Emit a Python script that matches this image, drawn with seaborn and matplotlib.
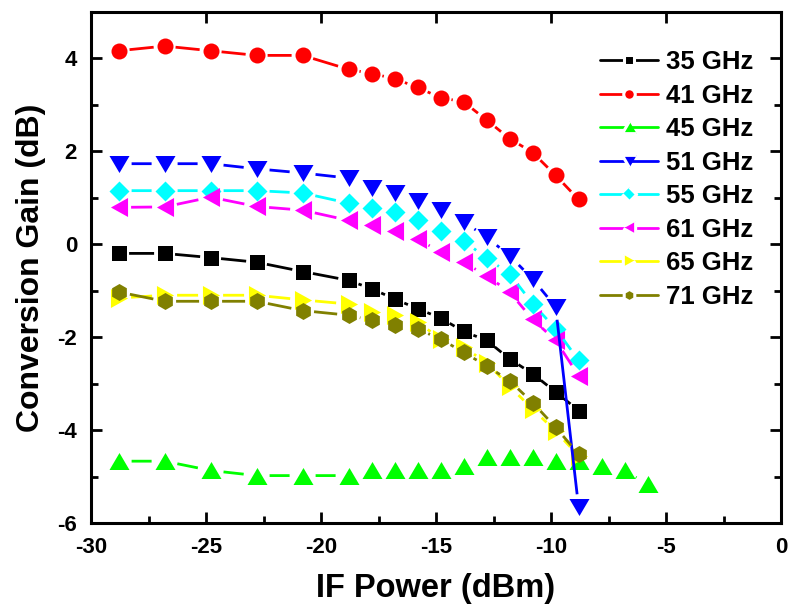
import numpy as np
import matplotlib
matplotlib.use("Agg")
import matplotlib.pyplot as plt
from matplotlib.lines import Line2D
from matplotlib.ticker import MultipleLocator
import seaborn as sns

# IF drive levels (dBm)
if_power = [-28.8, -26.8, -24.8, -22.8, -20.8, -18.8, -17.8, -16.8,
            -15.8, -14.8, -13.8, -12.8, -11.8, -10.8, -9.8, -8.8]
if_power_45 = [-28.8, -26.8, -24.8, -22.8, -20.8, -18.8, -17.8, -16.8,
               -15.8, -14.8, -13.8, -12.8, -11.8, -10.8, -9.8, -8.8,
               -7.8, -6.8, -5.8]

# conversion gain (dB) per RF frequency
gain_35 = [-0.20, -0.20, -0.29, -0.39, -0.59, -0.78, -0.96, -1.18,
           -1.39, -1.59, -1.88, -2.07, -2.47, -2.79, -3.18, -3.58]
gain_41 = [4.16, 4.26, 4.16, 4.06, 4.06, 3.76, 3.67, 3.56,
           3.37, 3.15, 3.06, 2.67, 2.27, 1.97, 1.48, 0.96]
gain_45 = [-4.67, -4.67, -4.87, -4.98, -4.98, -4.98, -4.87, -4.87,
           -4.87, -4.87, -4.77, -4.58, -4.58, -4.58, -4.67, -4.67,
           -4.77, -4.87, -5.17]
gain_51 = [1.73, 1.73, 1.73, 1.62, 1.53, 1.42, 1.21, 1.11,
           0.92, 0.73, 0.48, 0.15, -0.25, -0.75, -1.35, -5.66]
gain_55 = [1.15, 1.15, 1.15, 1.15, 1.10, 0.88, 0.77, 0.69,
           0.51, 0.29, 0.07, -0.30, -0.64, -1.28, -1.82, -2.50]
gain_61 = [0.79, 0.80, 1.01, 0.81, 0.73, 0.51, 0.42, 0.29,
           0.11, -0.17, -0.39, -0.68, -1.03, -1.62, -2.07, -2.83]
gain_65 = [-1.16, -1.10, -1.10, -1.10, -1.20, -1.29, -1.46, -1.52,
           -1.68, -2.04, -2.22, -2.55, -3.06, -3.55, -4.02, -4.56]
gain_71 = [-1.03, -1.23, -1.23, -1.23, -1.43, -1.53, -1.64, -1.73,
           -1.83, -2.04, -2.33, -2.62, -2.94, -3.41, -3.94, -4.52]

labels = ["35 GHz", "41 GHz", "45 GHz", "51 GHz",
          "55 GHz", "61 GHz", "65 GHz", "71 GHz"]
colors = ["#000000", "#FF0000", "#00FF00", "#0000FF",
          "#00FFFF", "#FF00FF", "#FFFF00", "#808000"]

# marker shapes (wide triangles, square diamond)
tri_up = np.array([(0, 0.85), (-1, -0.85), (1, -0.85)])
tri_down = np.array([(0, -0.85), (-1, 0.85), (1, 0.85)])
tri_left = np.array([(-0.9, 0), (0.9, -1), (0.9, 1)])
tri_right = np.array([(0.9, 0), (-0.9, -1), (-0.9, 1)])
diamond = np.array([(0, 1), (1, 0), (0, -1), (-1, 0)])

markers = ["s", "o", tri_up, tri_down, diamond, tri_left, tri_right, "h"]
marker_px = [15, 16, 20, 20, 20, 19, 19, 17]

series = [
    (if_power, gain_35), (if_power, gain_41), (if_power_45, gain_45),
    (if_power, gain_51), (if_power, gain_55), (if_power, gain_61),
    (if_power, gain_65), (if_power, gain_71),
]

sns.set_theme(style="ticks")
plt.rcParams["font.family"] = ["Liberation Sans", "DejaVu Sans"]
plt.rcParams["font.weight"] = "bold"
plt.rcParams["axes.unicode_minus"] = False

DPI = 100
fig = plt.figure(figsize=(7.94, 6.15), dpi=DPI)
ax = fig.add_axes([91 / 794, 1 - 523 / 615, 690 / 794, (523 - 11.7) / 615])
ax.set_xlim(-30, 0)
ax.set_ylim(-6, 5)


def gapped_path(xs, ys, gap_px):
    """Polyline with each segment shortened near the markers."""
    to_disp = ax.transData
    to_data = ax.transData.inverted()
    pts = to_disp.transform(np.column_stack([xs, ys]))
    parts = []
    for p0, p1 in zip(pts[:-1], pts[1:]):
        d = p1 - p0
        length = np.hypot(*d)
        if length <= 2 * gap_px + 0.5:
            continue
        u = d / length
        seg = np.array([p0 + u * gap_px, p1 - u * gap_px])
        parts.append(to_data.transform(seg))
        parts.append(np.array([[np.nan, np.nan]]))
    if not parts:
        return np.empty((0, 2))
    return np.vstack(parts)


pt_per_px = 72.0 / DPI
handles = []
for (xs, ys), lab, col, mk, mpx in zip(series, labels, colors, markers, marker_px):
    ms = mpx * pt_per_px
    sns.scatterplot(x=xs, y=ys, marker=mk, s=ms ** 2, color=col,
                    linewidth=0, ax=ax, zorder=2, legend=False)
    seg = gapped_path(xs, ys, mpx / 2 + 3)
    ax.plot(seg[:, 0], seg[:, 1], color=col, lw=2.0, zorder=3,
            solid_capstyle="butt")
    handles.append(Line2D([], [], color=col, lw=2.0, marker=mk,
                          markersize=ms * 0.72, markeredgecolor="white",
                          markeredgewidth=2.2, markerfacecolor=col,
                          label=lab))

# axes frame and ticks
for sp in ax.spines.values():
    sp.set_linewidth(2.2)
    sp.set_color("black")
ax.xaxis.set_major_locator(MultipleLocator(5))
ax.xaxis.set_minor_locator(MultipleLocator(2.5))
ax.yaxis.set_major_locator(MultipleLocator(2))
ax.yaxis.set_minor_locator(MultipleLocator(1))
ax.tick_params(which="both", direction="in", top=True, right=True,
               color="black", width=2)
ax.tick_params(which="major", length=8, labelsize=16, pad=10,
               labelcolor="black")
ax.tick_params(which="minor", length=5, top=False)
for lbl in ax.get_xticklabels() + ax.get_yticklabels():
    lbl.set_fontweight("bold")

ax.set_xlabel("IF Power (dBm)", fontsize=23.5, fontweight="bold",
              labelpad=11, color="black")
ax.set_ylabel("Conversion Gain (dB)", fontsize=23, fontweight="bold",
              labelpad=8, color="black")

leg = ax.legend(handles=handles, loc="upper left",
                bbox_to_anchor=((600 - 91) / 690, (523 - 50) / 511.3),
                frameon=False, fontsize=18.5, handlelength=2.25,
                handletextpad=0.3, labelspacing=0.37, borderpad=0,
                borderaxespad=0)
for t in leg.get_texts():
    t.set_fontweight("bold")
    t.set_color("black")

fig.savefig("out.png", dpi=DPI)
